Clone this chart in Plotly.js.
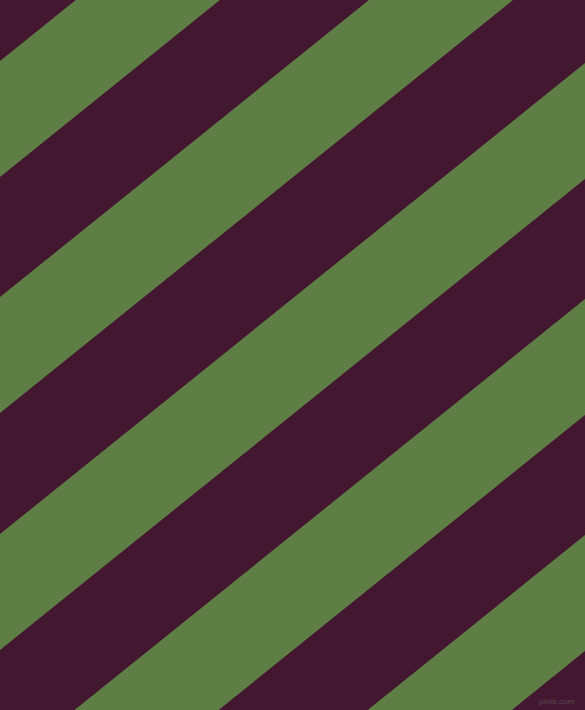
<!DOCTYPE html>
<html>
<head>
<meta charset="utf-8">
<script src="https://cdn.plot.ly/plotly-3.0.1.min.js"></script>
<style>
  html, body { margin: 0; padding: 0; background: #42172f; }
  #stripes { width: 585px; height: 710px; }
</style>
</head>
<body>
<div id="stripes"></div>
<script>
//------------------------------------------------------------------------------
// Diagonal stripes: green bands over a dark purple ground
//------------------------------------------------------------------------------
// where each green band meets the left edge (px from top)
var bandStart = [61, 297, 534, 770, 1006];
var bandEnd   = [177, 413, 650, 886, 1122];
// rise of the stripes per px to the right
var slope = 0.805;

var purple = "#42172f";
var green = "#5f7e46";

function bandTrace(c1, c2) {
  // parallelogram running past both sides, clipped by the axes
  var xa = -60, xb = 650;
  return {
    type: "scatter",
    mode: "lines",
    x: [xa, xb, xb, xa, xa],
    y: [c1 - slope * xa, c1 - slope * xb, c2 - slope * xb, c2 - slope * xa, c1 - slope * xa],
    fill: "toself",
    fillcolor: green,
    line: { width: 0, color: green },
    hoverinfo: "skip",
    showlegend: false
  };
}

var data = [];
for (var i = 0; i < bandStart.length; i++) {
  data.push(bandTrace(bandStart[i], bandEnd[i]));
}

var layout = {
  width: 585,
  height: 710,
  margin: { t: 0, r: 0, l: 0, b: 0, pad: 0 },
  paper_bgcolor: purple,
  plot_bgcolor: purple,
  showlegend: false,
  hovermode: false,
  xaxis: { range: [0, 585], visible: false, fixedrange: true },
  yaxis: { range: [710, 0], visible: false, fixedrange: true },
  annotations: [{
    text: "pixlis.com",
    xref: "paper", yref: "paper",
    x: 0.985, y: 0.003,
    xanchor: "right", yanchor: "bottom",
    showarrow: false,
    font: { family: "Liberation Sans, Arial, sans-serif", size: 8, color: "#5c4656" }
  }]
};

Plotly.newPlot('stripes', data, layout, { staticPlot: true, displayModeBar: false });
</script>
</body>
</html>
